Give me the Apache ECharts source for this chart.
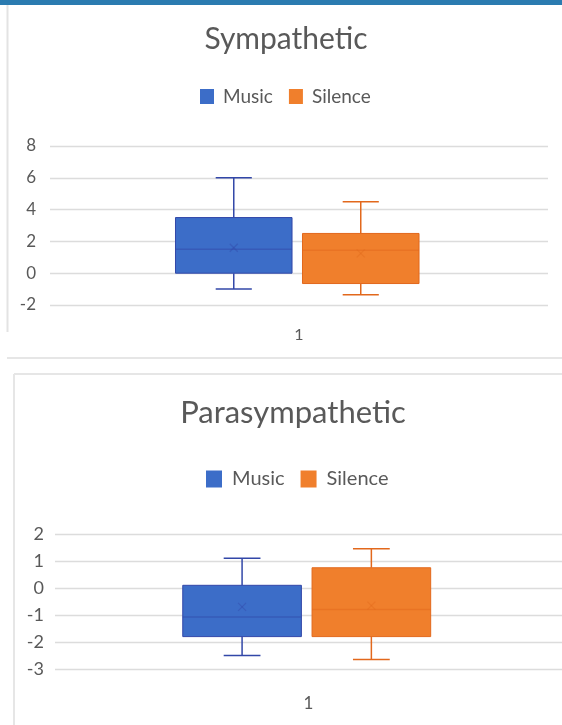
<!DOCTYPE html>
<html>
<head>
<meta charset="utf-8">
<script src="https://cdn.jsdelivr.net/npm/echarts@6/dist/echarts.min.js"></script>
<style>
html,body{margin:0;padding:0;background:#fff;}
#c{width:562px;height:725px;}
</style>
</head>
<body>
<div id="c"></div>
<script>
// ---- data ----
const categories = ['1'];
const seriesNames = ['Music', 'Silence'];
// [min, Q1, median, Q3, max]
const symMusic = [-1.0, 0.0, 1.5, 3.5, 6.0];
const symSilence = [-1.35, -0.65, 1.45, 2.5, 4.5];
const symMeans = [1.6, 1.25];
const paraMusic = [-2.5, -1.8, -1.07, 0.1, 1.1];
const paraSilence = [-2.65, -1.8, -0.8, 0.75, 1.45];
const paraMeans = [-0.7, -0.65];
const symTicks = { min: -2, max: 8, interval: 2 };
const paraTicks = { min: -3, max: 2, interval: 1 };

// ---- style ----
const fills = ['#3c6dc8', '#f07f2c'];
const strokes = ['#3247a8', '#e2681c'];
const offsets = [-0.131, 0.124];   // box centre offset as fraction of band
const boxFrac = 0.234;             // box width as fraction of band
const FONT = 'Lato';
const GRAY = '#595959';

function makeRender(idx) {
  return function (params, api) {
    const band = api.size([1, 0])[0];
    const cx = api.coord([api.value(0), 0])[0] + offsets[idx] * band;
    const w = boxFrac * band;
    const y = v => api.coord([0, api.value(v)])[1];
    const yMin = y(1), yQ1 = y(2), yMed = y(3), yQ3 = y(4), yMax = y(5), yMean = y(6);
    const cap = w * 0.31;
    const ls = { stroke: strokes[idx], lineWidth: 1.5 };
    const m = 4;
    return {
      type: 'group',
      children: [
        { type: 'line', shape: { x1: cx, y1: yMax, x2: cx, y2: yQ3 }, style: ls },
        { type: 'line', shape: { x1: cx, y1: yQ1, x2: cx, y2: yMin }, style: ls },
        { type: 'line', shape: { x1: cx - cap / 2, y1: yMax, x2: cx + cap / 2, y2: yMax }, style: ls },
        { type: 'line', shape: { x1: cx - cap / 2, y1: yMin, x2: cx + cap / 2, y2: yMin }, style: ls },
        { type: 'rect', shape: { x: cx - w / 2, y: yQ3, width: w, height: yQ1 - yQ3 },
          style: { fill: fills[idx], stroke: strokes[idx], lineWidth: 1 } },
        { type: 'line', shape: { x1: cx - w / 2, y1: yMed, x2: cx + w / 2, y2: yMed },
          style: { stroke: strokes[idx], lineWidth: 1.5, opacity: 0.5 } },
        { type: 'line', shape: { x1: cx - m, y1: yMean - m, x2: cx + m, y2: yMean + m },
          style: { stroke: strokes[idx], lineWidth: 1.2, opacity: 0.4 } },
        { type: 'line', shape: { x1: cx - m, y1: yMean + m, x2: cx + m, y2: yMean - m },
          style: { stroke: strokes[idx], lineWidth: 1.2, opacity: 0.4 } }
      ]
    };
  };
}

function rows(stats, mean) {
  return categories.map((c, i) => [i].concat(stats, [mean]));
}

const chart = echarts.init(document.getElementById('c'), null, { renderer: 'canvas' });

const yAxisBase = (t, fs, margin, gi) => ({
  type: 'value', gridIndex: gi, min: t.min, max: t.max, interval: t.interval,
  axisLine: { show: false }, axisTick: { show: false },
  axisLabel: { color: GRAY, fontSize: fs, fontFamily: FONT, margin: margin },
  splitLine: { lineStyle: { color: '#dcdcdc', width: 1.3 } }
});
const xAxisBase = (fs, margin, gi) => ({
  type: 'category', gridIndex: gi, data: categories,
  axisLine: { show: false }, axisTick: { show: false },
  axisLabel: { color: GRAY, fontSize: fs, fontFamily: FONT, margin: margin }
});

chart.setOption({
  animation: false,
  backgroundColor: '#ffffff',
  graphic: [
    { type: 'rect', shape: { x: 0, y: 0, width: 562, height: 5 }, style: { fill: '#2b7bb0' } },
    { type: 'line', shape: { x1: 7.5, y1: 5, x2: 7.5, y2: 332 }, style: { stroke: '#e3e3e3', lineWidth: 2 } },
    { type: 'line', shape: { x1: 7, y1: 358, x2: 562, y2: 358 }, style: { stroke: '#e6e6e6', lineWidth: 2 } },
    { type: 'line', shape: { x1: 14, y1: 374, x2: 562, y2: 374 }, style: { stroke: '#e6e6e6', lineWidth: 2 } },
    { type: 'line', shape: { x1: 14, y1: 374, x2: 14, y2: 725 }, style: { stroke: '#e6e6e6', lineWidth: 2 } }
  ],
  title: [
    { text: 'Sympathetic', left: 286, top: 24, textAlign: 'center', padding: 0,
      textStyle: { color: GRAY, fontSize: 30, fontWeight: 'normal', fontFamily: FONT } },
    { text: 'Parasympathetic', left: 293, top: 397, textAlign: 'center', padding: 0,
      textStyle: { color: GRAY, fontSize: 31, fontWeight: 'normal', fontFamily: FONT } }
  ],
  legend: [
    { data: seriesNames, left: 200, top: 87, padding: 0, itemWidth: 14, itemHeight: 15, itemGap: 16,
      icon: 'rect', textStyle: { color: GRAY, fontSize: 19, fontFamily: FONT, padding: [0, 0, 0, 4] } },
    { data: seriesNames, left: 206, top: 469, padding: 0, itemWidth: 16, itemHeight: 17, itemGap: 16,
      icon: 'rect', textStyle: { color: GRAY, fontSize: 20, fontFamily: FONT, padding: [0, 0, 0, 5] } }
  ],
  grid: [
    { left: 50, right: 14, top: 146, height: 159 },
    { left: 55, right: 0, top: 534, height: 135 }
  ],
  xAxis: [xAxisBase(16, 22, 0), xAxisBase(17, 26, 1)],
  yAxis: [yAxisBase(symTicks, 17, 14, 0), yAxisBase(paraTicks, 18, 11, 1)],
  series: [
    { name: 'Music', type: 'custom', xAxisIndex: 0, yAxisIndex: 0, renderItem: makeRender(0),
      itemStyle: { color: fills[0] }, data: rows(symMusic, symMeans[0]), encode: { x: 0, y: [1, 5] } },
    { name: 'Silence', type: 'custom', xAxisIndex: 0, yAxisIndex: 0, renderItem: makeRender(1),
      itemStyle: { color: fills[1] }, data: rows(symSilence, symMeans[1]), encode: { x: 0, y: [1, 5] } },
    { name: 'Music', type: 'custom', xAxisIndex: 1, yAxisIndex: 1, renderItem: makeRender(0),
      itemStyle: { color: fills[0] }, data: rows(paraMusic, paraMeans[0]), encode: { x: 0, y: [1, 5] } },
    { name: 'Silence', type: 'custom', xAxisIndex: 1, yAxisIndex: 1, renderItem: makeRender(1),
      itemStyle: { color: fills[1] }, data: rows(paraSilence, paraMeans[1]), encode: { x: 0, y: [1, 5] } }
  ]
});
</script>
</body>
</html>
